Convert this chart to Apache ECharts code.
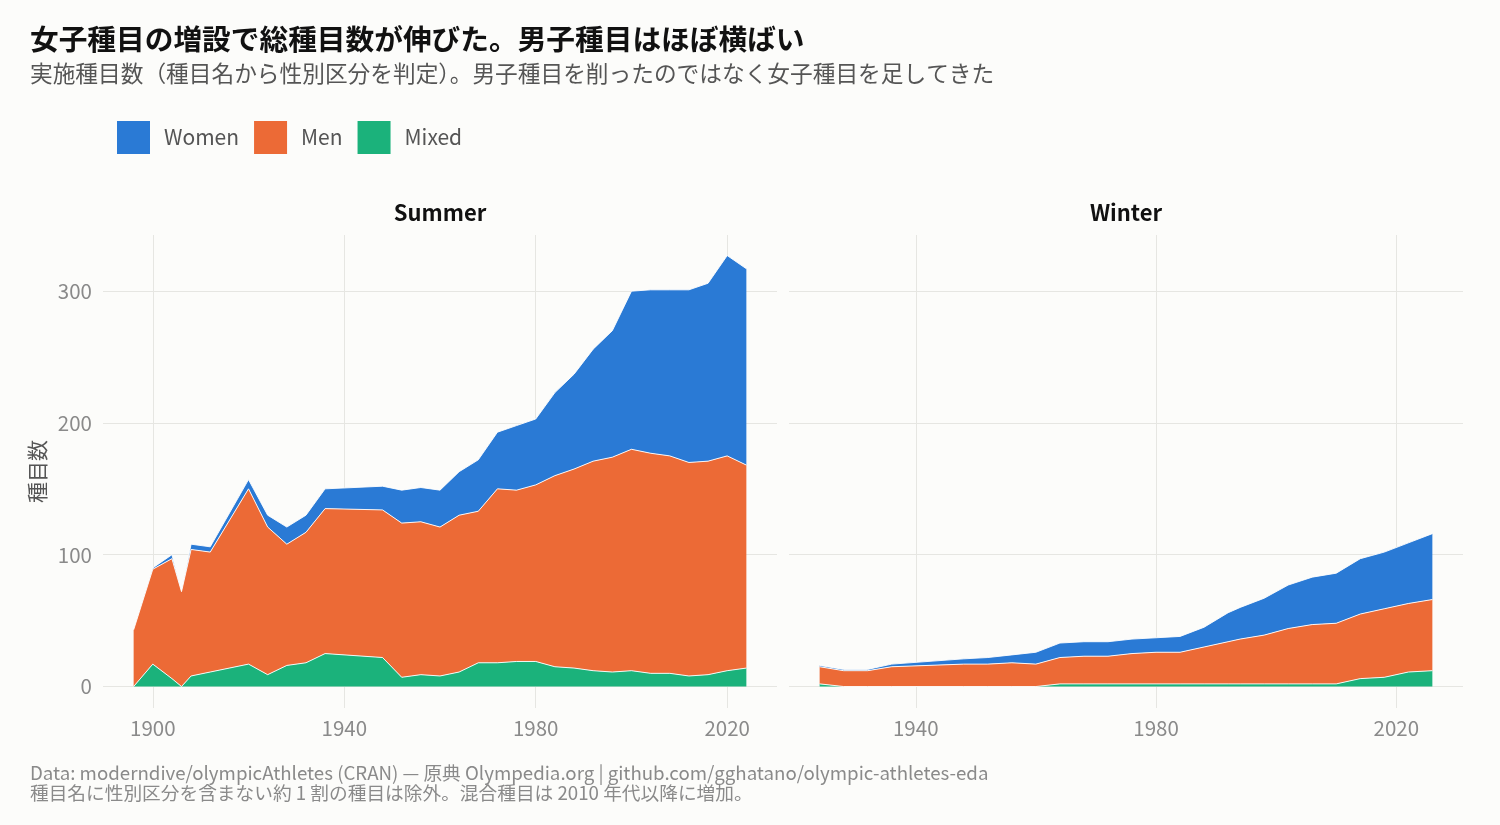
<!DOCTYPE html>
<html>
<head>
<meta charset="utf-8">
<script src="https://cdn.jsdelivr.net/npm/echarts@6/dist/echarts.min.js"></script>
<style>
html, body { margin: 0; padding: 0; background: #fcfcfa; }
#chart { width: 1500px; height: 825px; }
</style>
</head>
<body>
<div id="chart"></div>
<script>
// 夏季大会
const summerYears = [1896,1900,1904,1906,1908,1912,1920,1924,1928,1932,1936,1948,1952,1956,1960,1964,1968,1972,1976,1980,1984,1988,1992,1996,2000,2004,2008,2012,2016,2020,2024];
const summerMixed = [0,17,6,0,8,11,17,9,16,18,25,22,7,9,8,11,18,18,19,19,15,14,12,11,12,10,10,8,9,12,14];
const summerMen   = [43,72,91,72,96,91,133,112,92,99,110,112,117,116,113,119,115,132,130,134,145,151,159,163,168,167,165,162,162,163,154];
const summerWomen = [0,1,3,0,4,4,7,9,13,13,15,18,25,26,28,33,39,43,49,50,63,72,85,96,120,124,126,131,135,152,149];

// 冬季大会
const winterYears = [1924,1928,1932,1936,1948,1952,1956,1960,1964,1968,1972,1976,1980,1984,1988,1992,1994,1998,2002,2006,2010,2014,2018,2022,2026];
const winterMixed = [2,0,0,0,0,0,0,0,2,2,2,2,2,2,2,2,2,2,2,2,2,6,7,11,12];
const winterMen   = [13,12,12,15,17,17,18,17,20,21,21,23,24,24,28,32,34,37,42,45,46,49,52,52,54];
const winterWomen = [1,1,1,2,4,5,6,9,11,11,11,11,11,12,15,22,24,28,33,36,38,42,43,46,50];

const yTicks = [0, 100, 200, 300];
const summerTicks = [1900, 1940, 1980, 2020];
const winterTicks = [1940, 1980, 2020];

const colors = { Women: '#2a7ad5', Men: '#ec6a36', Mixed: '#1bb27b' };
const gridColor = '#e6e6e2';
const font = 'Noto Sans CJK JP';

const chart = echarts.init(document.getElementById('chart'));

// 値を先頭の次元に置いて、年ではなく値で積み上げさせる
function area(name, years, vals, idx, z) {
    return {
        name: name,
        type: 'line',
        xAxisIndex: idx,
        yAxisIndex: idx,
        stack: 'total' + idx,
        data: years.map((y, i) => [vals[i], y]),
        encode: { x: 1, y: 0 },
        symbol: 'none',
        z: z,
        silent: true,
        lineStyle: { color: '#ffffff', width: 0.9 },
        itemStyle: { color: colors[name] },
        areaStyle: { color: colors[name], opacity: 1 }
    };
}

function xAxis(idx, min, max, ticks) {
    return {
        gridIndex: idx,
        type: 'value',
        min: min,
        max: max,
        axisLine: { show: false },
        axisTick: { show: false, customValues: ticks },
        axisLabel: { customValues: ticks, color: '#8a8a8a', fontSize: 20.5, margin: 10,
            fontFamily: font, formatter: v => String(v) },
        splitLine: { show: true, lineStyle: { color: gridColor, width: 1 } }
    };
}

function yAxis(idx, showLabel) {
    return {
        gridIndex: idx,
        type: 'value',
        min: -16.3,
        max: 342.6,
        axisLine: { show: false },
        axisTick: { show: false, customValues: yTicks },
        axisLabel: { show: showLabel, customValues: yTicks, color: '#8a8a8a', fontSize: 20.5, margin: 11,
            fontFamily: font },
        splitLine: { show: true, lineStyle: { color: gridColor, width: 1 } },
        name: showLabel ? '種目数' : '',
        nameLocation: 'middle',
        nameGap: 55,
        nameTextStyle: { color: '#555', fontSize: 21, fontFamily: font }
    };
}

chart.setOption({
    backgroundColor: '#fcfcfa',
    animation: false,
    textStyle: { fontFamily: font },
    title: [
        {
            text: '女子種目の増設で総種目数が伸びた。男子種目はほぼ横ばい',
            left: 30, top: 25, padding: 0,
            textStyle: { fontSize: 28.7, fontWeight: 'bold', color: '#111' }
        },
        {
            text: '実施種目数（種目名から性別区分を判定）。男子種目を削ったのではなく女子種目を足してきた',
            left: 30, top: 62, padding: 0,
            textStyle: { fontSize: 22.7, fontWeight: 'normal', color: '#555' }
        },
        {
            text: 'Summer', left: 440, top: 202, padding: 0, textAlign: 'center',
            textStyle: { fontSize: 22, fontWeight: 'bold', color: '#111' }
        },
        {
            text: 'Winter', left: 1126, top: 202, padding: 0, textAlign: 'center',
            textStyle: { fontSize: 22, fontWeight: 'bold', color: '#111' }
        },
        {
            text: 'Data: moderndive/olympicAthletes (CRAN) — 原典 Olympedia.org | github.com/gghatano/olympic-athletes-eda\n種目名に性別区分を含まない約 1 割の種目は除外。混合種目は 2010 年代以降に増加。',
            left: 30, top: 763, padding: 0,
            textStyle: { fontSize: 18.7, fontWeight: 'normal', color: '#8a8a8a', lineHeight: 20 }
        }
    ],
    legend: {
        data: ['Women', 'Men', 'Mixed'],
        left: 117, top: 121, padding: 0,
        icon: 'rect',
        itemWidth: 33, itemHeight: 33, itemGap: 15,
        itemStyle: { borderWidth: 0 },
        textStyle: { fontSize: 21, color: '#555', padding: [0, 0, 0, 9] }
    },
    grid: [
        { left: 103, top: 235, width: 674, height: 473 },
        { left: 789, top: 235, width: 674, height: 473 }
    ],
    xAxis: [
        xAxis(0, 1889.6, 2030.4, summerTicks),
        xAxis(1, 1918.9, 2031.1, winterTicks)
    ],
    yAxis: [yAxis(0, true), yAxis(1, false)],
    series: [
        area('Mixed', summerYears, summerMixed, 0, 5),
        area('Men', summerYears, summerMen, 0, 4),
        area('Women', summerYears, summerWomen, 0, 3),
        area('Mixed', winterYears, winterMixed, 1, 5),
        area('Men', winterYears, winterMen, 1, 4),
        area('Women', winterYears, winterWomen, 1, 3)
    ]
});
</script>
</body>
</html>
